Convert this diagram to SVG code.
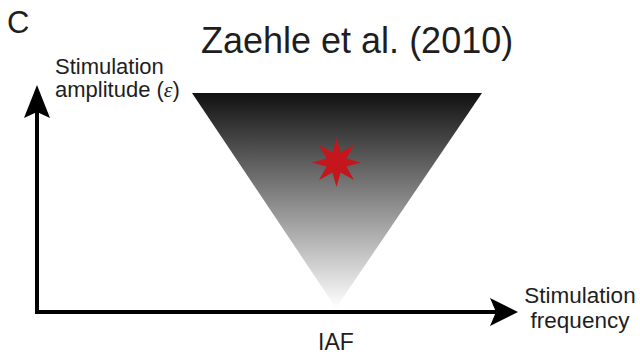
<svg xmlns="http://www.w3.org/2000/svg" width="640" height="355" viewBox="0 0 640 355">
  <defs>
    <linearGradient id="fade" x1="0" y1="93" x2="0" y2="308" gradientUnits="userSpaceOnUse">
      <stop offset="0" stop-color="#111111"/>
      <stop offset="1" stop-color="#ffffff"/>
    </linearGradient>
    <style>
      .lbl { font-family: "Liberation Sans", Arial, sans-serif; fill: #1e1e1e; }
      .axis { fill: none; stroke: #000; stroke-width: 4; stroke-linejoin: miter; }
      .head { fill: #000; }
    </style>
  </defs>
  <rect width="640" height="355" fill="#ffffff"/>

  <!-- panel letter and title -->
  <g id="panel-letter"><text class="lbl" x="7" y="33" font-size="31">C</text></g>
  <g id="title"><text class="lbl" x="201" y="53" font-size="36">Zaehle et al. (2010)</text></g>

  <!-- stimulation region: inverted triangle fading to white -->
  <g id="region">
    <polygon points="192,93 482,93 336,308" fill="url(#fade)"/>
  </g>

  <!-- optimum marker -->
  <g id="optimum">
    <polygon fill="#c4161c" points="336.5,138 340.6,152.6 354,145 346.4,158.4 361,162.5 346.4,166.6 354,180 340.6,172.4 336.5,187 332.4,172.4 319,180 326.6,166.6 312,162.5 326.6,158.4 319,145 332.4,152.6"/>
  </g>

  <!-- axes -->
  <g id="axes">
    <path class="axis" d="M37,112 V312 H496"/>
    <polygon class="head" points="37,85 50,118 37,112 24,118"/>
    <polygon class="head" points="518,312 490,298 496,312 490,326"/>
  </g>

  <!-- axis labels -->
  <g id="y-label">
    <text class="lbl" x="55" y="74" font-size="22">Stimulation</text>
    <text class="lbl" x="55" y="97" font-size="22">amplitude (<tspan font-style="italic" font-family="'Liberation Serif', serif">ε</tspan>)</text>
  </g>
  <g id="x-label">
    <text class="lbl" x="580" y="303" font-size="22.5" text-anchor="middle">Stimulation</text>
    <text class="lbl" x="580" y="328" font-size="22.5" text-anchor="middle">frequency</text>
  </g>
  <g id="iaf-label">
    <text class="lbl" x="336" y="350" font-size="23" text-anchor="middle">IAF</text>
  </g>
</svg>
